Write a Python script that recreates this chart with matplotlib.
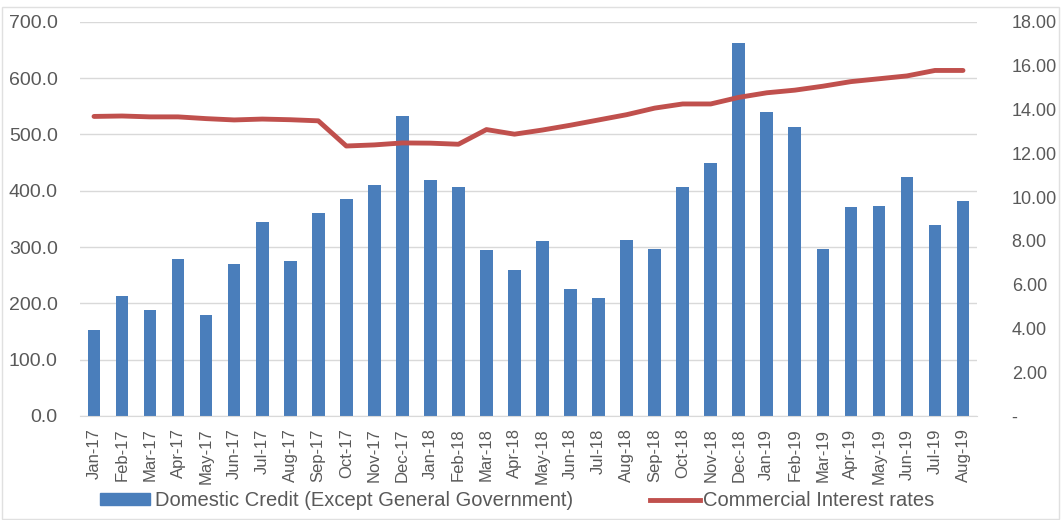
import numpy as np
import matplotlib
matplotlib.use("Agg")
import matplotlib.pyplot as plt
import matplotlib.ticker as ticker
from matplotlib.patches import Rectangle

months = ["Jan-17", "Feb-17", "Mar-17", "Apr-17", "May-17", "Jun-17", "Jul-17", "Aug-17",
          "Sep-17", "Oct-17", "Nov-17", "Dec-17", "Jan-18", "Feb-18", "Mar-18", "Apr-18",
          "May-18", "Jun-18", "Jul-18", "Aug-18", "Sep-18", "Oct-18", "Nov-18", "Dec-18",
          "Jan-19", "Feb-19", "Mar-19", "Apr-19", "May-19", "Jun-19", "Jul-19", "Aug-19"]

credit = [153, 213, 188, 278, 180, 270, 345, 275,
          360, 385, 410, 533, 420, 407, 295, 259,
          310, 225, 210, 312, 297, 407, 450, 662,
          540, 513, 296, 372, 373, 424, 340, 381]

rates = [13.68, 13.70, 13.66, 13.66, 13.58, 13.52, 13.56, 13.53,
         13.48, 12.33, 12.38, 12.47, 12.46, 12.41, 13.08, 12.87,
         13.06, 13.28, 13.52, 13.76, 14.06, 14.25, 14.25, 14.55,
         14.76, 14.88, 15.06, 15.27, 15.40, 15.53, 15.78, 15.78]

plt.rcParams['font.family'] = ['Liberation Sans', 'DejaVu Sans']
grey = '#595959'

fig = plt.figure(figsize=(10.61, 5.2), dpi=100)
ax = fig.add_axes([80 / 1061, 0.2, 897 / 1061, 0.758])
x = np.arange(len(months))
ax.bar(x, credit, width=0.45, color='#4a7ebb', zorder=2)
ax.set_ylim(0, 700)
ax.set_yticks(np.arange(0, 701, 100))
ax.yaxis.set_major_formatter(ticker.FormatStrFormatter("%.1f"))
ax.set_xlim(-0.5, len(months) - 0.5)
ax.set_xticks(x)
ax.set_xticklabels(months, rotation=90, fontsize=12, color=grey)
ax.tick_params(axis='y', labelsize=14, colors=grey, length=0, pad=16)
ax.tick_params(axis='x', length=0, pad=9)
ax.grid(axis='y', color='#d9d9d9', linewidth=1, zorder=0)
for s in ['top', 'left', 'right']:
    ax.spines[s].set_visible(False)
ax.spines['bottom'].set_color('#d9d9d9')

ax2 = ax.twinx()
ax2.plot(x, rates, color='#c0504d', linewidth=3.5, solid_capstyle='round', zorder=3)
ax2.set_ylim(0, 18)
ax2.set_yticks(np.arange(0, 19, 2))
ax2.yaxis.set_major_formatter(ticker.FuncFormatter(lambda v, p: '-' if v == 0 else '%.2f' % v))
ax2.tick_params(axis='y', labelsize=13, colors=grey, length=0, pad=25)
for s in ['top', 'left', 'right', 'bottom']:
    ax2.spines[s].set_visible(False)

# legend
fig.patches.append(Rectangle((100 / 1061, 1 - 505 / 520), 50 / 1061, 12 / 520,
                             transform=fig.transFigure, color='#4a7ebb'))
fig.text(155 / 1061, 1 - 500 / 520, "Domestic Credit (Except General Government)",
         fontsize=14.5, color=grey, va='center')
fig.lines.append(plt.Line2D([650 / 1061, 700 / 1061], [1 - 500 / 520, 1 - 500 / 520],
                            transform=fig.transFigure, color='#c0504d', linewidth=3.5))
fig.text(703 / 1061, 1 - 500 / 520, "Commercial Interest rates",
         fontsize=14.5, color=grey, va='center')

fig.patches.append(Rectangle((0.002, 0.002), 0.996, 0.985, transform=fig.transFigure,
                             fill=False, edgecolor='#e0e0e0', linewidth=1))

fig.savefig("out.png", dpi=100)
